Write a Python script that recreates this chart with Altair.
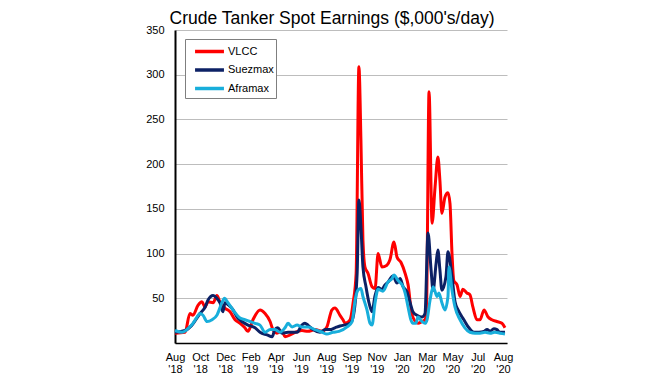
import altair as alt
import pandas as pd

# x positions are in axis-label units (0 = "Aug '18", 13 = "Aug '20")
tick_labels = [["Aug", "'18"], ["Oct", "'18"], ["Dec", "'18"], ["Feb", "'19"], ["Apr", "'19"],
               ["Jun", "'19"], ["Aug", "'19"], ["Sep", "'19"], ["Nov", "'19"], ["Jan", "'20"],
               ["Mar", "'20"], ["May", "'20"], ["Jul", "'20"], ["Aug", "'20"]]

series_names = ["VLCC", "Suezmax", "Aframax"]
series_colors = ["#FF0000", "#0C2165", "#18AEDB"]

vlcc_x = [0, 0.40, 0.59, 0.71, 0.91, 1.07, 1.19, 1.31, 1.51, 1.66, 1.78, 1.98, 2.18, 2.38, 2.58,
          2.77, 2.89, 3.09, 3.37, 3.57, 3.77, 3.88, 4.04, 4.24, 4.36, 4.56, 4.76, 5.03, 5.27,
          5.55, 5.83, 6.02, 6.22, 6.34, 6.54, 6.66, 6.74, 6.94, 7.06, 7.18, 7.29, 7.37, 7.45,
          7.53, 7.65, 7.81, 7.93, 8.05, 8.20, 8.40, 8.52, 8.68, 8.80, 8.96, 9.12, 9.24, 9.39,
          9.63, 9.79, 9.91, 9.97, 10.07, 10.19, 10.31, 10.42, 10.50, 10.58, 10.70, 10.82, 10.90,
          10.98, 11.05, 11.18, 11.30, 11.41, 11.57, 11.69, 11.81, 11.97, 12.09, 12.25, 12.41,
          12.56, 12.76, 12.96, 13.08]
vlcc_y = [11, 12, 33, 31, 42, 46, 40, 46, 45, 53, 46, 39, 35, 26, 22,
          17, 13, 26, 37, 33, 24, 15, 11, 13, 7, 9, 12, 14, 13,
          15, 13, 18, 37, 39, 31, 26, 22, 26, 45, 78, 309, 227, 115,
          85, 78, 63, 61, 100, 85, 87, 93, 113, 96, 90, 78, 65, 32,
          22, 24, 26, 40, 281, 134, 175, 208, 182, 145, 163, 168, 156,
          100, 70, 65, 52, 60, 56, 54, 40, 26, 26, 37, 29,
          26, 24, 22, 17]

suez_x = [0, 0.40, 0.67, 0.99, 1.19, 1.31, 1.51, 1.66, 1.78, 1.90, 1.98, 2.14, 2.30, 2.46, 2.65,
          2.89, 3.17, 3.37, 3.65, 3.85, 3.96, 4.08, 4.24, 4.48, 4.84, 5.03, 5.15, 5.27, 5.47,
          5.75, 5.95, 6.14, 6.34, 6.54, 6.94, 7.06, 7.22, 7.29, 7.37, 7.45, 7.57, 7.69, 7.81,
          7.93, 8.05, 8.20, 8.32, 8.44, 8.64, 8.80, 8.92, 9.04, 9.20, 9.32, 9.43, 9.59, 9.79,
          9.91, 10.03, 10.15, 10.23, 10.35, 10.42, 10.50, 10.58, 10.74, 10.82, 10.98, 11.10,
          11.22, 11.45, 11.65, 11.85, 12.05, 12.25, 12.37, 12.49, 12.64, 12.76, 12.88, 13.08]
suez_y = [12, 14, 20, 33, 40, 48, 53, 50, 45, 35, 45, 42, 37, 29, 24,
          20, 17, 12, 9, 7, 15, 17, 11, 12, 12, 20, 22, 20, 15,
          12, 15, 15, 17, 19, 22, 29, 78, 160, 130, 85, 63, 45, 35,
          53, 62, 60, 65, 68, 75, 67, 72, 63, 57, 45, 35, 31, 29,
          33, 123, 82, 59, 89, 104, 82, 59, 74, 102, 74, 46,
          37, 26, 17, 12, 12, 13, 15, 13, 16, 15, 12, 12]

afra_x = [0, 0.28, 0.51, 0.71, 0.87, 0.99, 1.11, 1.27, 1.47, 1.66, 1.86, 1.96, 2.10, 2.30, 2.58,
          2.77, 2.97, 3.17, 3.37, 3.57, 3.77, 3.96, 4.16, 4.36, 4.48, 4.64, 4.84, 5.03, 5.27,
          5.55, 5.83, 6.02, 6.26, 6.50, 6.82, 7.02, 7.14, 7.25, 7.37, 7.45, 7.61, 7.73, 7.81,
          7.93, 8.05, 8.24, 8.44, 8.60, 8.68, 8.84, 9.04, 9.12, 9.24, 9.35, 9.43, 9.55, 9.63,
          9.79, 9.91, 9.99, 10.11, 10.23, 10.39, 10.46, 10.58, 10.70, 10.82, 10.86, 10.98,
          11.10, 11.30, 11.49, 11.69, 11.89, 12.09, 12.29, 12.49, 12.68, 12.88, 13.08]
afra_y = [14, 12, 16, 22, 29, 33, 31, 24, 26, 31, 45, 50, 45, 37, 28,
          26, 24, 22, 20, 12, 15, 15, 12, 17, 22, 18, 20, 18, 18,
          15, 12, 10, 12, 13, 18, 24, 48, 59, 61, 52, 37, 22, 20,
          45, 60, 58, 68, 72, 76, 70, 63, 56, 40, 26, 22, 22, 29,
          24, 22, 26, 48, 63, 52, 56, 45, 37, 52, 85, 59,
          40, 26, 17, 12, 11, 11, 12, 11, 12, 11, 10]

frames = []
for name, xs, ys in [("VLCC", vlcc_x, vlcc_y), ("Suezmax", suez_x, suez_y), ("Aframax", afra_x, afra_y)]:
    frames.append(pd.DataFrame({"x": xs, "value": ys, "series": name}))
df = pd.concat(frames, ignore_index=True)
df["order"] = df["series"].map({n: i for i, n in enumerate(series_names)})

label_js = "[" + ",".join("[\"%s\",\"%s\"]" % (a, b) for a, b in tick_labels) + "]"

FONT = "Liberation Sans"

chart = alt.Chart(df).mark_line(strokeWidth=3, interpolate="monotone").encode(
    x=alt.X("x:Q",
            scale=alt.Scale(domain=[0, 13.16], nice=False, zero=False),
            axis=alt.Axis(values=list(range(14)), title=None, grid=False, ticks=False,
                          domainColor="black", domainWidth=1.5,
                          labelExpr=label_js + "[datum.value]",
                          labelFont=FONT, labelFontSize=11, labelColor="black",
                          labelPadding=8, labelLineHeight=12, labelOverlap=False,
                          labelFlush=False)),
    y=alt.Y("value:Q",
            scale=alt.Scale(domain=[0, 350], nice=False),
            axis=alt.Axis(values=[0, 50, 100, 150, 200, 250, 300, 350], title=None,
                          ticks=False, domainColor="black", domainWidth=2,
                          gridColor="#BDBDBD", gridWidth=1,
                          labelExpr="datum.value == 0 ? '' : datum.label",
                          labelFont=FONT, labelFontSize=11, labelColor="black",
                          labelPadding=11)),
    color=alt.Color("series:N",
                    scale=alt.Scale(domain=series_names, range=series_colors),
                    sort=series_names,
                    legend=alt.Legend(title=None, orient="none", legendX=10, legendY=9,
                                      symbolType="M-1.7,0L1.7,0", symbolSize=289,
                                      symbolStrokeWidth=3.5, symbolOffset=12,
                                      labelFont=FONT, labelExpr="datum.label + '   '",
                                      labelFontSize=11, labelColor="black",
                                      labelOffset=8, rowPadding=0.5,
                                      padding=2, strokeColor="#7F7F7F",
                                      fillColor="white")),
    detail="series:N",
    order="order:Q",
).properties(
    width=332,
    height=313,
    title=alt.TitleParams("Crude Tanker Spot Earnings ($,000's/day)", font=FONT,
                          fontSize=17.5, fontWeight="normal", color="black",
                          anchor="middle", dx=-9, offset=-3),
    padding={"left": 167, "top": 22, "right": 20, "bottom": 31},
    autosize=alt.AutoSizeParams(type="none"),
).configure_view(stroke=None)

chart.save("out.html", embed_options={"renderer": "svg", "actions": False})
